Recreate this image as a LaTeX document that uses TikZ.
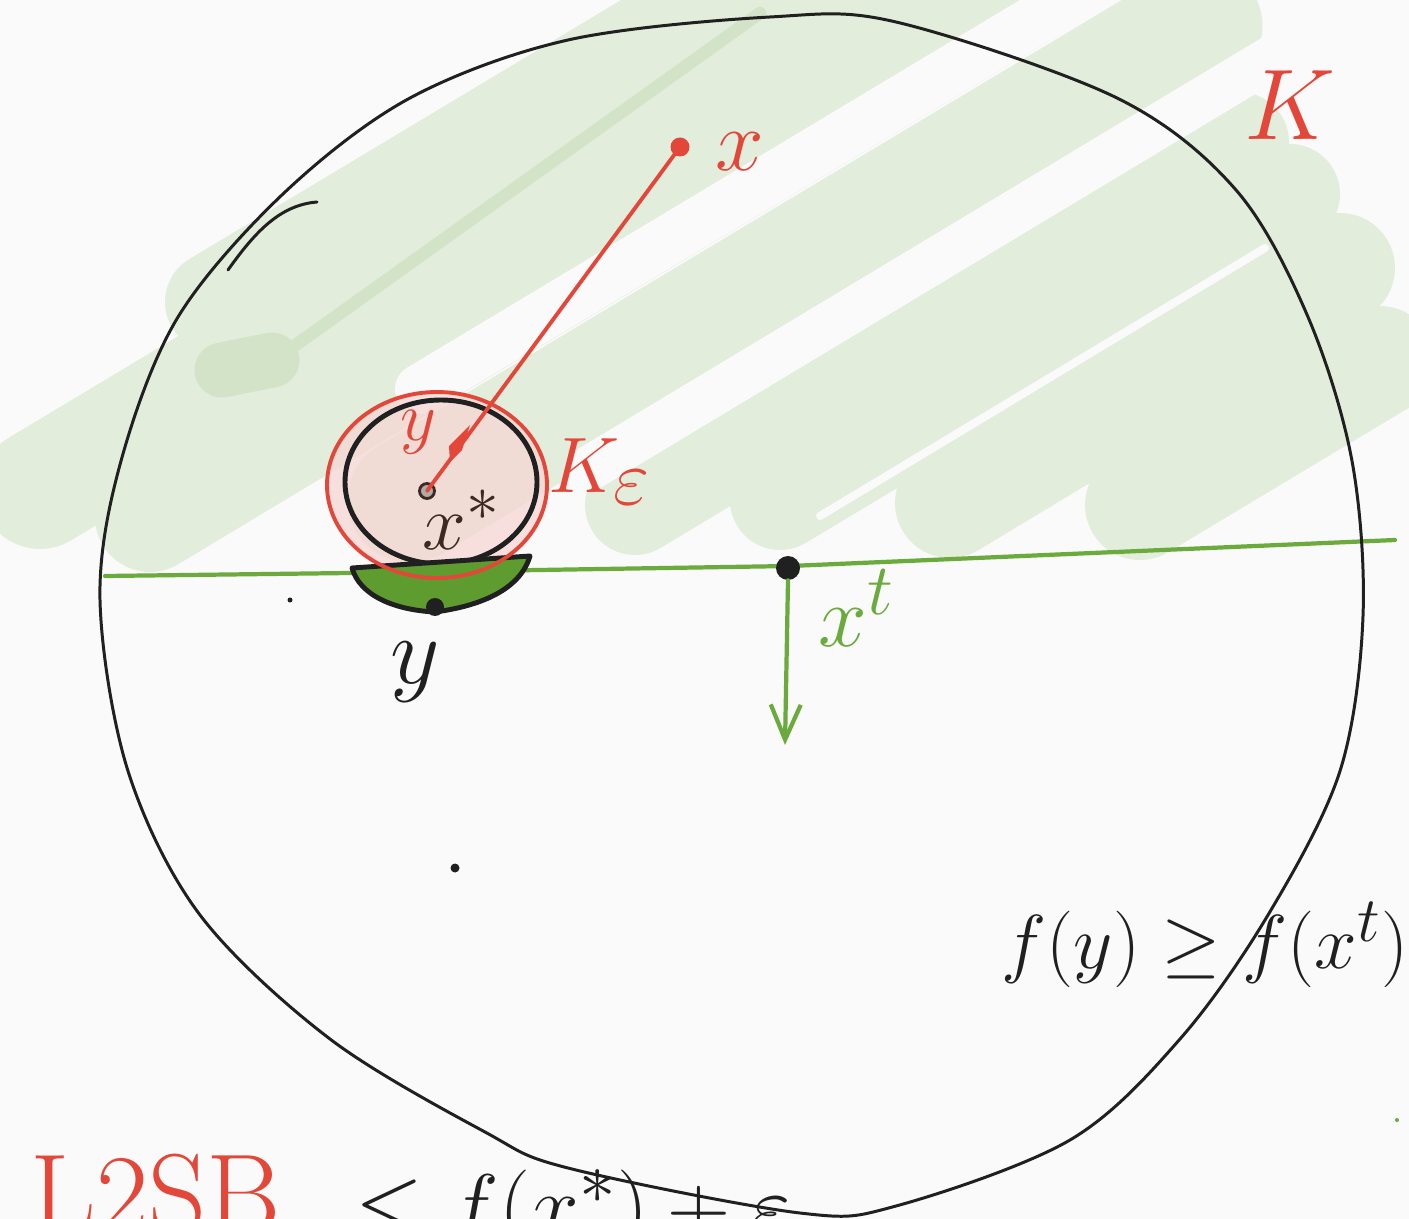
\documentclass[tikz,border=0pt]{standalone}
\usepackage{amsmath,amssymb}
\usepackage{tikz}
\usetikzlibrary{arrows.meta,positioning,calc}
\definecolor{paper}{HTML}{FAFAFA}
\definecolor{ink}{HTML}{202020}
\definecolor{brownink}{HTML}{3B2A24}
\definecolor{redink}{HTML}{E2473A}
\definecolor{greenink}{HTML}{6BAA3C}
\definecolor{capgreen}{HTML}{5E9C2F}
\definecolor{hatchgreen}{HTML}{E3EDDB}
\definecolor{hatchdark}{HTML}{D3E3C8}
\definecolor{pinkfill}{HTML}{F6D6D4}
\tikzset{
  hatch/.style={draw=hatchgreen,line cap=round,line width=2.2cm},
  gapline/.style={draw=paper,line cap=round,line width=1cm},
  inkline/.style={draw=ink,line width=1.7pt,line cap=round,line join=round},
  redline/.style={draw=redink,line width=2.2pt,line cap=round},
  greenline/.style={draw=greenink,line width=2.4pt,line cap=round},
  dotmark/.style={circle,fill=ink,inner sep=0pt,minimum size=0.4cm},
  redlbl/.style={text=redink,inner sep=0pt,font=\Huge},
  inklbl/.style={text=ink,inner sep=0pt,font=\Huge},
  greenlbl/.style={text=greenink,inner sep=0pt,font=\Huge}
}

\begin{document}
\begin{tikzpicture}[x=0.02cm,y=-0.02cm]
  \useasboundingbox (0,0) rectangle (1409,1219);
  \clip (0,0) rectangle (1409,1219);
  \fill[paper] (0,0) rectangle (1409,1219);

  % green hatching, upper part
  \draw[hatch,line width=2cm] (215,302) -- (760,-25);
  \draw[hatch,line width=2.4cm] (40,489) -- (900,-27);
  \draw[hatch] (150,517) -- (1030,-12);
  \draw[hatch,line width=2.5cm] (410,500) -- (1200,26);
  \draw[hatch,line width=2cm] (635,505) -- (1239,142);
  \draw[hatch,line width=2cm] (780,500) -- (1290,194);
  \draw[hatch] (950,503) -- (1340,268);
  \draw[hatch] (1140,505) -- (1380,361);
  \draw[gapline] (420,389) -- (1100,-19);
  \draw[gapline,line width=0.9cm] (590,468) -- (1300,41);
  \draw[gapline,line width=0.16cm] (820,516) -- (1265,248);
  \draw[draw=hatchdark,line cap=round,line width=1.1cm] (222,370) -- (272,360);
  \draw[draw=hatchdark,line cap=round,line width=0.25cm] (272,362) -- (760,13);

  % level line through x^t
  \draw[greenline] (105,576) -- (350,573) -- (790,566) -- (1395,540);

  % ball K_eps around x*
  \fill[pinkfill,opacity=0.75] (437,485) ellipse [x radius=110,y radius=93];
  \draw[inkline,line width=2.8pt] (441,482) ellipse [x radius=96,y radius=82];
  \draw[inkline,line width=2.8pt,fill=capgreen] (352,568) -- (530,556)
    .. controls (520,590) and (480,606) .. (435,612)
    .. controls (395,610) and (360,596) .. cycle;
  \node[dotmark,minimum size=0.36cm] (ycap) at (435,607) {};
  \draw[redline] (437,485) ellipse [x radius=110,y radius=93];

  % segment from the ball to x
  \node[circle,draw=brownink,fill=brownink!40,line width=1.6pt,inner sep=0pt,minimum size=0.3cm] (yin) at (427,491) {};
  \node[circle,fill=redink,inner sep=0pt,minimum size=0.38cm] (xpt) at (680,147) {};
  \draw[redline] (yin.center) -- (xpt.center);
  \fill[redink] (470,425) -- (462,450) -- (450,462) -- (449,446) -- cycle;

  % outer set K
  \draw[inkline] plot[smooth cycle,tension=0.55] coordinates {
    (1363,616) (1352,461) (1308,317) (1236,190) (1117,98) (896,22)
    (770,17) (568,40) (410,98) (284,193) (178,317) (121,461)
    (100,600) (128,771) (200,915) (330,1039) (485,1132) (568,1168)
    (800,1213) (896,1206) (1070,1140) (1180,1039) (1268,915) (1340,771)};
  \draw[inkline] (228,270) .. controls (255,232) and (280,205) .. (317,202);

  % descent step at x^t
  \node[dotmark,minimum size=0.48cm] (xt) at (788,568) {};
  \coordinate (xtdown) at (785,745);
  \draw[greenline,-{Straight Barb[length=7mm,width=6mm]}] (xt.south) -- (xtdown);

  % stray marks
  \node[dotmark,minimum size=0.1cm] (mark1) at (290,600) {};
  \node[dotmark,minimum size=0.18cm] (mark2) at (455,868) {};
  \node[circle,fill=greenink,inner sep=0pt,minimum size=0.08cm] (mark3) at (1397,1120) {};

  % labels
  \node[redlbl,scale=2.3] (Klbl) at (1290,105) {$K$};
  \node[redlbl,scale=2.0] (xlbl) at (740,152) {$x$};
  \node[redlbl,scale=1.6] (ylbl) at (418,432) {$y$};
  \node[redlbl,scale=1.8] (Kelbl) at (600,472) {$K_{\textstyle\varepsilon}$};
  \node[text=brownink,inner sep=0pt,font=\Huge,scale=1.8] (xstar) at (462,520) {$x^{\ast}$};
  \node[inklbl,scale=2.2] (ybot) at (415,672) {$y$};
  \node[greenlbl,scale=2.0] (xtlbl) at (857,608) {$x^{t}$};
  \node[inklbl,scale=1.75] (ineq) at (1205,945) {$f(y)\geq f(x^{t})$};
  \node[redlbl,scale=2.6,anchor=base west] (lsb) at (30,1233) {L2SB};
  \node[inklbl,scale=2.0,anchor=base west] (bound) at (355,1235) {$\leq f(x^{\ast})+\varepsilon$};
\end{tikzpicture}
\end{document}
